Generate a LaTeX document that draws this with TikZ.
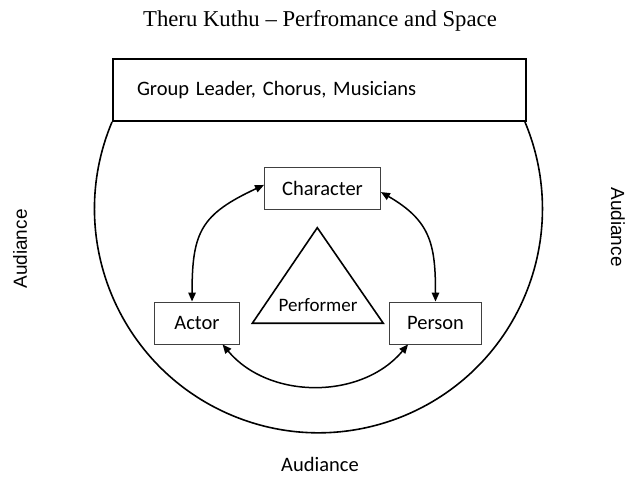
\documentclass[tikz,border=0pt]{standalone}
\usepackage{fontspec}
\setmainfont{Liberation Serif}
\newfontfamily\calibri{Carlito}
\newfontfamily\arialfont{Liberation Sans}
\usetikzlibrary{arrows.meta}

\begin{document}
\begin{tikzpicture}
[x=1pt, y=1pt, link/.style={<->, >={Triangle[length=9pt, width=7.5pt]}, line width=1.5pt}, main line/.style={line width=1.6pt}, box/.style={draw=black!75, line width=0.9pt, minimum height=42pt, font=\calibri\fontsize{20.5}{24}\selectfont}, side text/.style={font=\arialfont\fontsize{19}{22}\selectfont}]
    \useasboundingbox (0,0) rectangle (625,477);
    \coordinate (top) at (317.3,249.3);
    \coordinate (base left) at (252.3,153.7);
    \coordinate (base right) at (383.3,153.7);
    \node[anchor=base] (title) at (320,450) {\fontsize{22.7}{27}\selectfont Theru Kuthu – Perfromance and Space};
    \node[draw, line width=2pt, minimum height=62pt, text width=365pt, inner xsep=24pt, align=left, font=\calibri\fontsize{20.5}{24}\selectfont] (stage) at (319.5,387) {Group Leader, Chorus, Musicians};
    \draw[main line] (stage.south west) arc[start angle=157.2, end angle=382.8, radius=224];
    \node[box, minimum width=116pt] (character) at (322.5,289) {Character};
    \node[box, minimum width=85pt] (actor) at (197,154) {Actor};
    \node[box, minimum width=92pt] (person) at (435.5,154) {Person};
    \draw[main line] (top) -- (base left) -- (base right) -- cycle;
    \node[anchor=base, font=\calibri\fontsize{19}{22}\selectfont] (performer) at (318,165) {Performer};
    \draw[link] (character.177) to[out=205, in=90, looseness=1.3] (actor.103);
    \draw[link] (character.-4) to[out=-30, in=90, looseness=1.2] (person.north);
    \draw[link] (actor.-40) to[out=-50, in=-130] (person.-142);
    \node[side text, rotate=90] (left audience) at (20,228) {Audiance};
    \node[side text, rotate=-90] (right audience) at (618,250) {Audiance};
    \node[anchor=base, font=\calibri\fontsize{20.5}{24}\selectfont, inner sep=1pt] (bottom audience) at (320,5) {Audiance};
\end{tikzpicture}
\end{document}
